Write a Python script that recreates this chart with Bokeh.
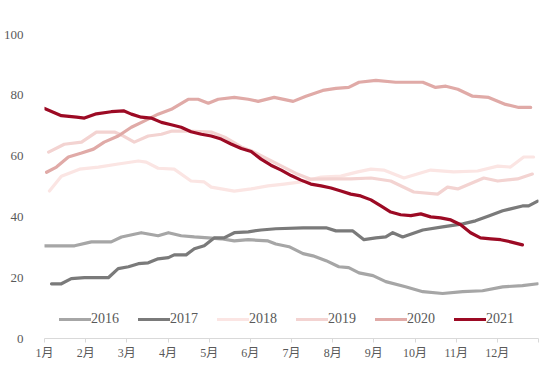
from bokeh.plotting import figure
from bokeh.models import FixedTicker, Range1d
from bokeh.embed import file_html
from bokeh.resources import INLINE

months = ["1月", "2月", "3月", "4月", "5月", "6月", "7月", "8月", "9月", "10月", "11月", "12月"]
y_ticks = [0, 20, 40, 60, 80, 100]

# x positions are in months since 1 Jan (0 = 1月)
x2016 = [0, 0.73, 1.14, 1.62, 1.87, 2.35, 2.76, 3.01, 3.32, 3.64, 3.98, 4.29, 4.61, 4.95, 5.43, 5.62,
         5.94, 6.28, 6.52, 6.84, 7.15, 7.39, 7.64, 7.98, 8.29, 8.77, 9.19, 9.67, 10.16, 10.64, 11.13, 11.61, 11.98]
v2016 = [30.5, 30.5, 31.8, 31.8, 33.4, 34.8, 33.8, 34.8, 33.8, 33.4, 33.1, 32.8, 32.1, 32.5, 32.1, 31.1,
         30.2, 27.9, 27.2, 25.6, 23.6, 23.3, 21.6, 20.7, 18.7, 17.0, 15.4, 14.8, 15.4, 15.7, 17.0, 17.4, 18.0]

x2017 = [0.17, 0.41, 0.65, 0.97, 1.55, 1.79, 2.04, 2.28, 2.52, 2.76, 3.01, 3.15, 3.44, 3.64, 3.88, 4.12,
         4.36, 4.61, 4.95, 5.26, 5.62, 6.28, 6.84, 7.08, 7.49, 7.76, 8.05, 8.29, 8.46, 8.70, 9.19, 9.67,
         10.16, 10.47, 10.79, 11.13, 11.61, 11.76, 11.98]
v2017 = [18.0, 18.0, 19.7, 20.0, 20.0, 23.0, 23.6, 24.6, 24.9, 26.2, 26.6, 27.5, 27.5, 29.5, 30.5, 33.1,
         33.1, 34.8, 35.1, 35.7, 36.1, 36.4, 36.4, 35.4, 35.4, 32.5, 33.1, 33.4, 34.8, 33.4, 35.7, 36.7,
         37.7, 38.7, 40.3, 42.0, 43.6, 43.6, 45.2]

x2018 = [0.12, 0.41, 0.85, 1.31, 1.79, 2.28, 2.47, 2.76, 3.15, 3.56, 3.88, 4.05, 4.61, 5.02, 5.43, 5.82,
         6.23, 6.72, 7.20, 7.61, 7.93, 8.24, 8.73, 9.38, 9.94, 10.52, 11.01, 11.32, 11.64, 11.88]
v2018 = [48.5, 53.4, 55.7, 56.4, 57.4, 58.4, 58.0, 56.0, 55.7, 51.8, 51.5, 49.8, 48.5, 49.2, 50.2, 50.8,
         51.5, 53.1, 53.4, 54.8, 55.7, 55.4, 52.8, 55.4, 54.8, 55.1, 56.7, 56.4, 59.7, 59.7]

x2019 = [0.10, 0.48, 0.90, 1.26, 1.70, 1.92, 2.18, 2.52, 2.84, 3.08, 3.49, 4.05, 4.41, 4.78, 5.02, 5.38,
         5.75, 6.11, 6.47, 7.03, 7.44, 7.93, 8.41, 8.97, 9.55, 9.79, 10.04, 10.67, 11.01, 11.49, 11.85]
v2019 = [61.3, 63.9, 64.6, 67.9, 67.9, 66.6, 64.6, 66.6, 67.2, 68.2, 68.2, 67.9, 66.0, 63.0, 61.8, 59.3,
         56.8, 54.3, 52.4, 52.5, 52.5, 52.8, 51.8, 48.2, 47.5, 49.8, 49.2, 52.8, 51.8, 52.5, 54.1]

x2020 = [0.05, 0.29, 0.58, 0.90, 1.19, 1.45, 1.79, 2.11, 2.42, 2.76, 3.08, 3.49, 3.73, 3.98, 4.22, 4.61,
         4.95, 5.19, 5.58, 6.04, 6.35, 6.76, 7.08, 7.39, 7.64, 8.05, 8.53, 9.19, 9.50, 9.75, 10.04, 10.40,
         10.79, 11.20, 11.52, 11.81]
v2020 = [54.7, 56.4, 59.7, 61.0, 62.3, 64.6, 66.6, 69.5, 71.5, 73.8, 75.4, 78.7, 78.7, 77.4, 78.7, 79.3,
         78.7, 78.0, 79.3, 78.0, 79.7, 81.6, 82.3, 82.6, 84.3, 84.9, 84.3, 84.3, 82.6, 83.0, 82.0, 79.7,
         79.3, 77.0, 76.0, 76.0]

x2021 = [0, 0.41, 0.78, 0.97, 1.26, 1.62, 1.92, 2.11, 2.35, 2.59, 2.84, 3.08, 3.32, 3.56, 3.81, 4.05,
         4.29, 4.53, 4.78, 5.02, 5.26, 5.50, 5.75, 5.99, 6.23, 6.47, 6.72, 6.96, 7.20, 7.44, 7.68, 7.93,
         8.17, 8.41, 8.65, 8.90, 9.14, 9.38, 9.62, 9.87, 10.11, 10.35, 10.59, 10.84, 11.08, 11.32, 11.61]
v2021 = [75.7, 73.3, 72.8, 72.5, 73.9, 74.6, 74.9, 73.8, 72.8, 72.5, 71.1, 70.3, 69.5, 68.0, 67.2, 66.6,
         65.6, 64.0, 62.5, 61.5, 59.0, 57.0, 55.4, 53.6, 52.1, 50.8, 50.2, 49.5, 48.5, 47.5, 46.9, 45.6,
         43.6, 41.6, 40.7, 40.4, 41.0, 40.0, 39.7, 39.0, 37.4, 34.8, 33.1, 32.8, 32.5, 31.8, 30.8]

series = [
    ("2016", x2016, v2016, "#A6A6A6"),
    ("2017", x2017, v2017, "#7A7A7A"),
    ("2018", x2018, v2018, "#FBE5E3"),
    ("2019", x2019, v2019, "#F3D3D1"),
    ("2020", x2020, v2020, "#E0AAA7"),
    ("2021", x2021, v2021, "#9C0A24"),
]

SERIF = "'Liberation Serif', 'Noto Sans CJK SC'"

p = figure(width=540, height=362, output_backend="svg", toolbar_location=None,
           x_range=Range1d(0, 12), y_range=Range1d(0, 100),
           min_border_left=43, min_border_right=2, min_border_top=34, min_border_bottom=23)
p.outline_line_color = None
p.xgrid.grid_line_color = None
p.ygrid.grid_line_color = None
p.background_fill_color = "white"

for name, xs, vs, col in series:
    p.line(xs, vs, line_color=col, line_width=3.2, legend_label=name,
           line_join="round", line_cap="round")

p.xaxis.ticker = FixedTicker(ticks=list(range(13)))
p.xaxis.major_label_overrides = {i: (months[i] if i < 12 else "") for i in range(13)}
p.xaxis.axis_line_color = "#D9D9D9"
p.xaxis.major_tick_line_color = "#D9D9D9"
p.xaxis.major_tick_in = 0
p.xaxis.major_tick_out = 4
p.xaxis.minor_tick_line_color = None
p.xaxis.major_label_standoff = 3
p.xaxis.major_label_text_font = SERIF
p.xaxis.major_label_text_font_size = "12px"
p.xaxis.major_label_text_color = "#595959"

p.yaxis.ticker = FixedTicker(ticks=y_ticks)
p.yaxis.axis_line_color = None
p.yaxis.major_tick_line_color = None
p.yaxis.minor_tick_line_color = None
p.yaxis.major_label_standoff = 15
p.yaxis.major_label_text_font = SERIF
p.yaxis.major_label_text_font_size = "13px"
p.yaxis.major_label_text_color = "#595959"

lg = p.legend[0]
lg.orientation = "horizontal"
lg.location = (15, 9)
lg.border_line_color = None
lg.background_fill_alpha = 0
lg.padding = 0
lg.margin = 0
lg.glyph_width = 32
lg.label_standoff = 0
lg.spacing = 19
lg.label_text_font = SERIF
lg.label_text_font_size = "14px"
lg.label_text_color = "#595959"

open("out.html", "w").write(file_html(p, INLINE))
